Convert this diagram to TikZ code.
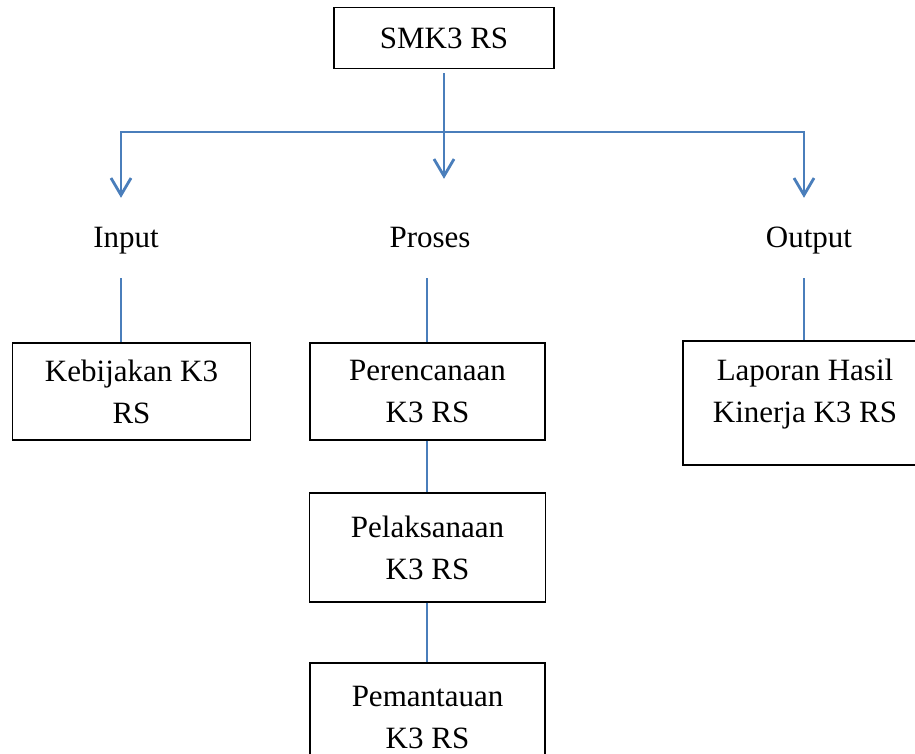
\documentclass[tikz,border=0pt]{standalone}
\usepackage{fontspec}
\setmainfont{Liberation Serif}
\usepackage{xcolor}
\usepackage{tikz}
\usetikzlibrary{arrows.meta}
\definecolor{linkblue}{RGB}{74,126,187}

\begin{document}
\begin{tikzpicture}[x=1pt, y=1pt,
  box/.style={draw=black, line width=1.3pt, align=center, inner sep=0pt,
    font=\fontsize{31}{42}\selectfont},
  lbl/.style={inner sep=0pt, text height=22pt, text depth=7pt,
    font=\fontsize{31}{42}\selectfont},
  branch/.style={draw=linkblue, line width=2.8pt},
  tip/.style={branch, -{Straight Barb[length=17pt, width=20pt]}},
  link/.style={draw=linkblue, line width=1.8pt}]
\useasboundingbox (0,0) rectangle (915,-754);
\clip (0,0) rectangle (915,-754);
% top box and the split below it
\node[box, minimum width=220pt, minimum height=61pt] (smk) at (444,-38) {SMK3 RS};
\coordinate (split) at (444,-132);
% the three headings
\node[lbl, anchor=base] (input) at (126,-247) {Input};
\node[lbl, anchor=base] (proses) at (430,-247) {Proses};
\node[lbl, anchor=base] (output) at (809,-247) {Output};
% boxes under the headings
\node[box, minimum width=238pt, minimum height=97pt] (kebijakan) at (131.5,-391.5) {Kebijakan K3\\RS};
\node[box, minimum width=235pt, minimum height=97pt] (perencanaan) at (427.5,-391.5) {Perencanaan\\K3 RS};
\node[box, minimum width=236pt, minimum height=109pt] (pelaksanaan) at (427.5,-547.5) {Pelaksanaan\\K3 RS};
\node[box, minimum width=235pt, minimum height=109pt] (pemantauan) at (427.5,-717.5) {Pemantauan\\K3 RS};
\node[box, minimum width=244pt, minimum height=124pt] (laporan) at (805,-403) {};
\node[inner sep=0pt, align=center, anchor=north, font=\fontsize{31}{42}\selectfont] (laporantext) at (805,-359) {Laporan Hasil\\Kinerja K3 RS};
% arrows from the top box
\draw[branch, shorten <=4pt] (smk.south) -- (split);
\draw[branch] ([xshift=-5pt]input.north |- split) -- ([xshift=-5pt]output.north |- split);
\draw[tip, shorten >=27pt] (split) -| ([xshift=-5pt]input.north);
\draw[tip, shorten >=46pt] (split) -- (split |- proses.north);
\draw[tip, shorten >=27pt] (split) -| ([xshift=-5pt]output.north);
% thin links down to the boxes
\draw[link, shorten <=24pt] ([xshift=-5pt]input.south) -- ([xshift=-5pt]input.south |- kebijakan.north);
\draw[link, shorten <=24pt] ([xshift=-3pt]proses.south) -- ([xshift=-3pt]proses.south |- perencanaan.north);
\draw[link, shorten <=24pt] ([xshift=-5pt]output.south) -- ([xshift=-5pt]output.south |- laporan.north);
\draw[link] (perencanaan.south -| 427,0) -- (pelaksanaan.north -| 427,0);
\draw[link] (pelaksanaan.south -| 427,0) -- (pemantauan.north -| 427,0);
\end{tikzpicture}
\end{document}
